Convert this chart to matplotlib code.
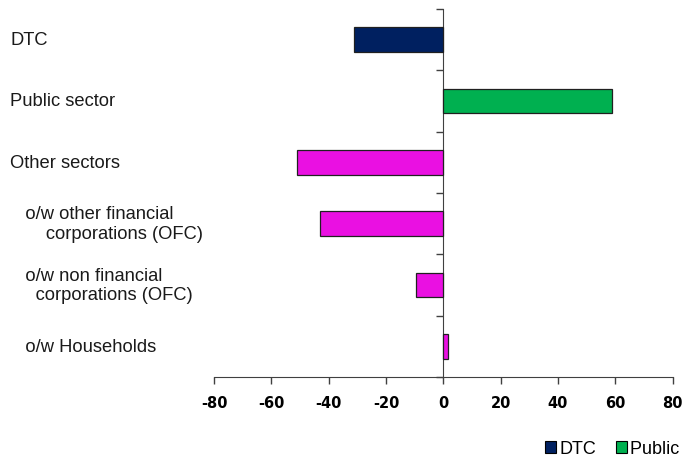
import numpy as np
import matplotlib.pyplot as plt
import matplotlib.transforms as mtransforms
from matplotlib.patches import Patch

# Données du graphique
categories = [
    "DTC",
    "Public sector",
    "Other sectors",
    "   o/w other financial\n       corporations (OFC)",
    "   o/w non financial\n     corporations (OFC)",
    "   o/w Households",
]
valeurs = [-31.0, 59.0, -51.2, -43.2, -9.7, 1.7]
groupes = ["DTC", "Public sector", "Other sectors", "Other sectors", "Other sectors", "Other sectors"]
legende = ["DTC", "Public sector"]
couleurs = {"DTC": "#002060", "Public sector": "#00B050", "Other sectors": "#EA10E2"}
ticks_x = [-80, -60, -40, -20, 0, 20, 40, 60, 80]

plt.rcParams['font.family'] = ['Liberation Sans', 'DejaVu Sans']

fig = plt.figure(figsize=(6.84, 4.6), dpi=100)
ax = fig.add_axes([214 / 684, 1 - 378 / 460, (672.7 - 214) / 684, (378 - 10) / 460])

y = np.arange(len(categories))
ax.barh(y, valeurs, height=0.4, color=[couleurs[g] for g in groupes],
        edgecolor="#202020", linewidth=0.9, zorder=3)

ax.set_xlim(-80, 80)
ax.set_ylim(len(categories) - 0.5, -0.5)
ax.set_xticks(ticks_x)
ax.set_xticklabels([str(t) for t in ticks_x], fontweight="bold", fontsize=10.5,
                   family=["DejaVu Sans"])
ax.set_yticks(np.arange(-0.5, len(categories), 1.0))
ax.set_yticklabels([])

for cote in ["top", "right"]:
    ax.spines[cote].set_visible(False)
ax.spines["left"].set_position(("data", 0))
ax.spines["left"].set_color("#404040")
ax.spines["bottom"].set_color("#404040")
ax.tick_params(axis="x", direction="out", length=5, width=1, color="#404040", pad=8)
ax.tick_params(axis="y", direction="out", length=5, width=1, color="#404040")

# Étiquettes des catégories, alignées à gauche sur la figure
trans = mtransforms.blended_transform_factory(fig.transFigure, ax.transData)
for yi, texte in zip(y, categories):
    fig.text(10 / 684, yi, texte, transform=trans, ha="left", va="center",
             fontsize=13.2, color="#1a1a1a", linespacing=1.2)

# Légende (coupée par le bord de la figure comme dans l'original)
poignees = [Patch(facecolor=couleurs[n], edgecolor="black", linewidth=0.8) for n in legende]
fig.legend(poignees, legende, loc="center left", bbox_to_anchor=(545 / 684, 1 - 450 / 460),
           ncol=2, frameon=False, fontsize=13, handlelength=0.6, handleheight=0.6,
           handletextpad=0.2, columnspacing=1.1, borderpad=0, borderaxespad=0)

fig.savefig("out.png", dpi=100)
